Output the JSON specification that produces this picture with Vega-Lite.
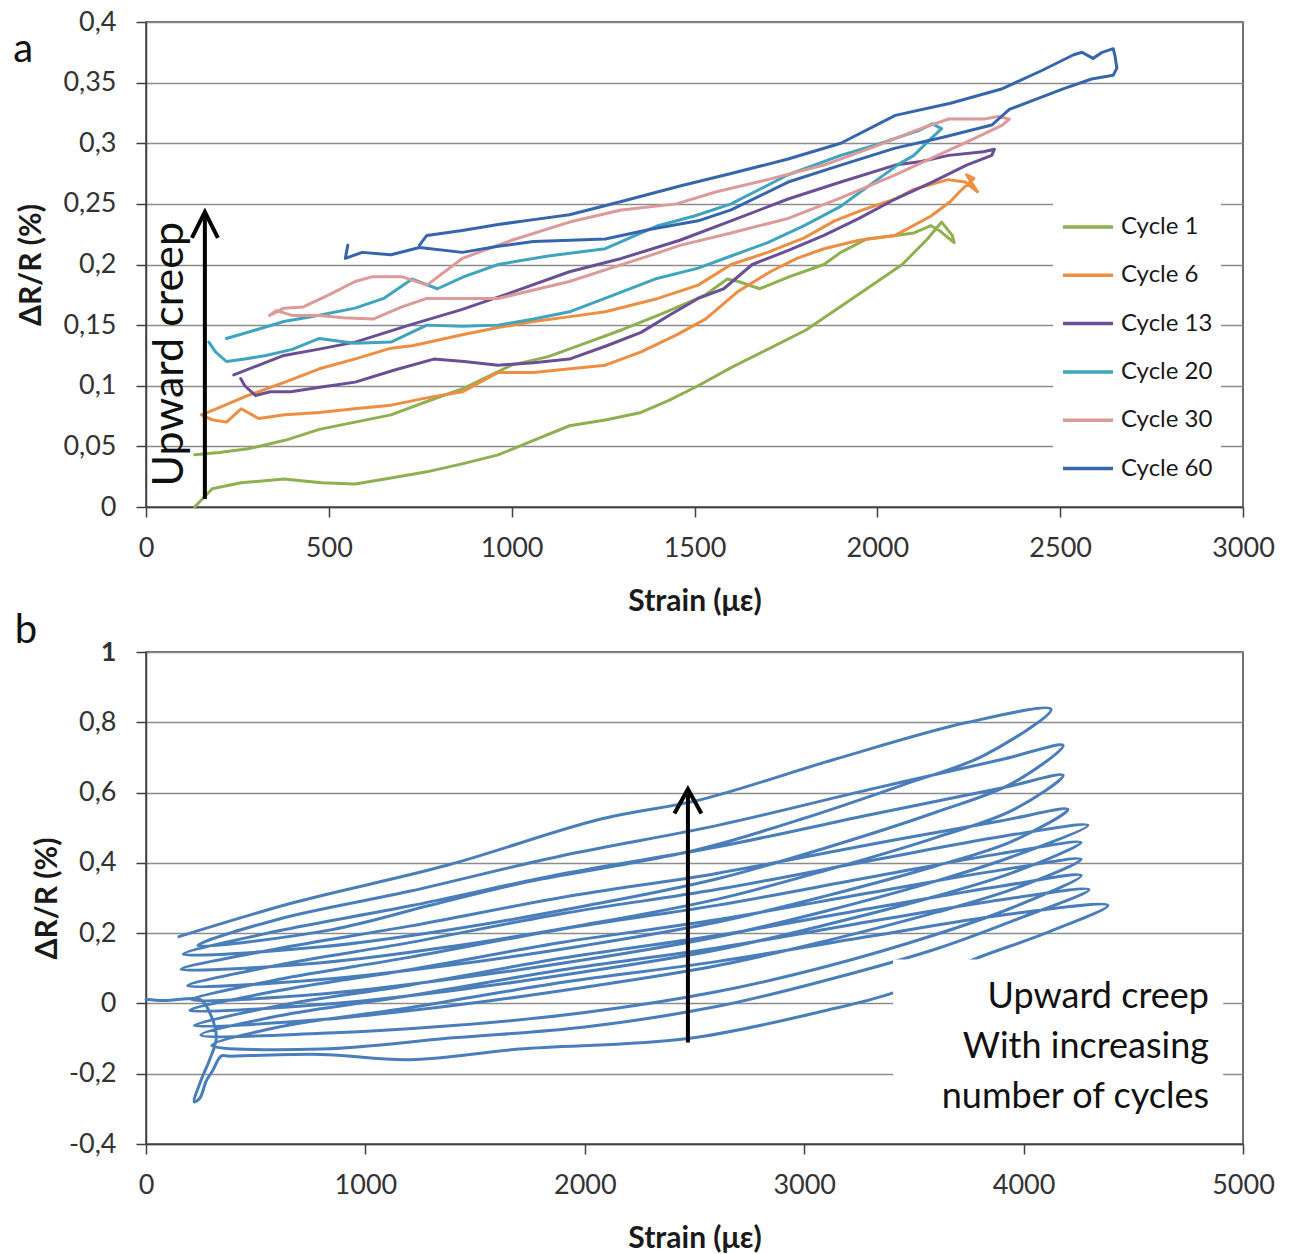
{
"$schema":"https://vega.github.io/schema/vega-lite/v6.json",
"padding":{"left":12,"top":7,"right":5,"bottom":5},
"background":"white",
"bounds":"flush",
"spacing":145,
"config":{
 "font":"Lato",
 "view":{"stroke":"#404040","strokeWidth":1.5},
 "axis":{"labelFont":"Lato","labelFontSize":27,"labelColor":"#333333","labelFlush":false,"titleFont":"Lato","titleFontSize":30,"titleFontWeight":"bold","titleColor":"#1a1a1a","domainColor":"#404040","domainWidth":1.5,"tickColor":"#404040","tickWidth":1.5,"tickSize":10,"gridColor":"#8c8c8c","gridWidth":1.5},
 "line":{"strokeJoin":"round","strokeCap":"round"}
},
"resolve":{"scale":{"color":"independent"},"legend":{"color":"independent"}},
"datasets":{
"a":[
{"c":"Cycle 1","x":133,"y":0.0,"o":1},{"c":"Cycle 1","x":181,"y":0.015,"o":2},{"c":"Cycle 1","x":260,"y":0.02,"o":3},{"c":"Cycle 1","x":377,"y":0.023,"o":4},{"c":"Cycle 1","x":480,"y":0.02,"o":5},{"c":"Cycle 1","x":572,"y":0.019,"o":6},{"c":"Cycle 1","x":670,"y":0.024,"o":7},{"c":"Cycle 1","x":768,"y":0.029,"o":8},{"c":"Cycle 1","x":870,"y":0.036,"o":9},{"c":"Cycle 1","x":963,"y":0.043,"o":10},{"c":"Cycle 1","x":1060,"y":0.055,"o":11},{"c":"Cycle 1","x":1158,"y":0.067,"o":12},{"c":"Cycle 1","x":1260,"y":0.072,"o":13},{"c":"Cycle 1","x":1354,"y":0.078,"o":14},{"c":"Cycle 1","x":1430,"y":0.088,"o":15},{"c":"Cycle 1","x":1510,"y":0.1,"o":16},{"c":"Cycle 1","x":1600,"y":0.115,"o":17},{"c":"Cycle 1","x":1700,"y":0.13,"o":18},{"c":"Cycle 1","x":1805,"y":0.146,"o":19},{"c":"Cycle 1","x":1932,"y":0.172,"o":20},{"c":"Cycle 1","x":2068,"y":0.2,"o":21},{"c":"Cycle 1","x":2137,"y":0.221,"o":22},{"c":"Cycle 1","x":2176,"y":0.235,"o":23},{"c":"Cycle 1","x":2205,"y":0.224,"o":24},{"c":"Cycle 1","x":2210,"y":0.218,"o":25},{"c":"Cycle 1","x":2170,"y":0.228,"o":26},{"c":"Cycle 1","x":2147,"y":0.232,"o":27},{"c":"Cycle 1","x":2100,"y":0.226,"o":28},{"c":"Cycle 1","x":2049,"y":0.224,"o":29},{"c":"Cycle 1","x":1971,"y":0.221,"o":30},{"c":"Cycle 1","x":1900,"y":0.21,"o":31},{"c":"Cycle 1","x":1854,"y":0.2,"o":32},{"c":"Cycle 1","x":1760,"y":0.19,"o":33},{"c":"Cycle 1","x":1678,"y":0.18,"o":34},{"c":"Cycle 1","x":1620,"y":0.186,"o":35},{"c":"Cycle 1","x":1590,"y":0.188,"o":36},{"c":"Cycle 1","x":1530,"y":0.175,"o":37},{"c":"Cycle 1","x":1463,"y":0.166,"o":38},{"c":"Cycle 1","x":1400,"y":0.158,"o":39},{"c":"Cycle 1","x":1300,"y":0.146,"o":40},{"c":"Cycle 1","x":1200,"y":0.135,"o":41},{"c":"Cycle 1","x":1100,"y":0.124,"o":42},{"c":"Cycle 1","x":1000,"y":0.117,"o":43},{"c":"Cycle 1","x":870,"y":0.098,"o":44},{"c":"Cycle 1","x":768,"y":0.087,"o":45},{"c":"Cycle 1","x":670,"y":0.076,"o":46},{"c":"Cycle 1","x":572,"y":0.07,"o":47},{"c":"Cycle 1","x":474,"y":0.064,"o":48},{"c":"Cycle 1","x":380,"y":0.055,"o":49},{"c":"Cycle 1","x":279,"y":0.048,"o":50},{"c":"Cycle 1","x":200,"y":0.045,"o":51},{"c":"Cycle 1","x":133,"y":0.043,"o":52},
{"c":"Cycle 6","x":152,"y":0.076,"o":1},{"c":"Cycle 6","x":180,"y":0.072,"o":2},{"c":"Cycle 6","x":220,"y":0.07,"o":3},{"c":"Cycle 6","x":260,"y":0.081,"o":4},{"c":"Cycle 6","x":308,"y":0.073,"o":5},{"c":"Cycle 6","x":380,"y":0.076,"o":6},{"c":"Cycle 6","x":474,"y":0.078,"o":7},{"c":"Cycle 6","x":570,"y":0.081,"o":8},{"c":"Cycle 6","x":670,"y":0.084,"o":9},{"c":"Cycle 6","x":768,"y":0.09,"o":10},{"c":"Cycle 6","x":865,"y":0.095,"o":11},{"c":"Cycle 6","x":963,"y":0.111,"o":12},{"c":"Cycle 6","x":1060,"y":0.111,"o":13},{"c":"Cycle 6","x":1160,"y":0.114,"o":14},{"c":"Cycle 6","x":1256,"y":0.117,"o":15},{"c":"Cycle 6","x":1354,"y":0.128,"o":16},{"c":"Cycle 6","x":1451,"y":0.142,"o":17},{"c":"Cycle 6","x":1530,"y":0.155,"o":18},{"c":"Cycle 6","x":1620,"y":0.178,"o":19},{"c":"Cycle 6","x":1707,"y":0.194,"o":20},{"c":"Cycle 6","x":1780,"y":0.205,"o":21},{"c":"Cycle 6","x":1854,"y":0.213,"o":22},{"c":"Cycle 6","x":1950,"y":0.22,"o":23},{"c":"Cycle 6","x":2049,"y":0.224,"o":24},{"c":"Cycle 6","x":2147,"y":0.24,"o":25},{"c":"Cycle 6","x":2200,"y":0.252,"o":26},{"c":"Cycle 6","x":2225,"y":0.26,"o":27},{"c":"Cycle 6","x":2264,"y":0.271,"o":28},{"c":"Cycle 6","x":2244,"y":0.274,"o":29},{"c":"Cycle 6","x":2274,"y":0.26,"o":30},{"c":"Cycle 6","x":2240,"y":0.268,"o":31},{"c":"Cycle 6","x":2193,"y":0.27,"o":32},{"c":"Cycle 6","x":2100,"y":0.262,"o":33},{"c":"Cycle 6","x":2049,"y":0.254,"o":34},{"c":"Cycle 6","x":1960,"y":0.245,"o":35},{"c":"Cycle 6","x":1883,"y":0.236,"o":36},{"c":"Cycle 6","x":1800,"y":0.222,"o":37},{"c":"Cycle 6","x":1700,"y":0.21,"o":38},{"c":"Cycle 6","x":1600,"y":0.2,"o":39},{"c":"Cycle 6","x":1510,"y":0.183,"o":40},{"c":"Cycle 6","x":1400,"y":0.172,"o":41},{"c":"Cycle 6","x":1256,"y":0.161,"o":42},{"c":"Cycle 6","x":1160,"y":0.157,"o":43},{"c":"Cycle 6","x":1060,"y":0.153,"o":44},{"c":"Cycle 6","x":963,"y":0.148,"o":45},{"c":"Cycle 6","x":865,"y":0.142,"o":46},{"c":"Cycle 6","x":728,"y":0.133,"o":47},{"c":"Cycle 6","x":670,"y":0.131,"o":48},{"c":"Cycle 6","x":570,"y":0.122,"o":49},{"c":"Cycle 6","x":474,"y":0.114,"o":50},{"c":"Cycle 6","x":380,"y":0.103,"o":51},{"c":"Cycle 6","x":279,"y":0.092,"o":52},{"c":"Cycle 6","x":200,"y":0.082,"o":53},{"c":"Cycle 6","x":152,"y":0.076,"o":54},
{"c":"Cycle 13","x":259,"y":0.106,"o":1},{"c":"Cycle 13","x":270,"y":0.1,"o":2},{"c":"Cycle 13","x":299,"y":0.092,"o":3},{"c":"Cycle 13","x":340,"y":0.095,"o":4},{"c":"Cycle 13","x":396,"y":0.095,"o":5},{"c":"Cycle 13","x":480,"y":0.099,"o":6},{"c":"Cycle 13","x":572,"y":0.103,"o":7},{"c":"Cycle 13","x":680,"y":0.113,"o":8},{"c":"Cycle 13","x":787,"y":0.122,"o":9},{"c":"Cycle 13","x":870,"y":0.12,"o":10},{"c":"Cycle 13","x":963,"y":0.117,"o":11},{"c":"Cycle 13","x":1060,"y":0.119,"o":12},{"c":"Cycle 13","x":1158,"y":0.122,"o":13},{"c":"Cycle 13","x":1260,"y":0.133,"o":14},{"c":"Cycle 13","x":1354,"y":0.144,"o":15},{"c":"Cycle 13","x":1430,"y":0.158,"o":16},{"c":"Cycle 13","x":1510,"y":0.172,"o":17},{"c":"Cycle 13","x":1580,"y":0.18,"o":18},{"c":"Cycle 13","x":1658,"y":0.2,"o":19},{"c":"Cycle 13","x":1760,"y":0.212,"o":20},{"c":"Cycle 13","x":1854,"y":0.224,"o":21},{"c":"Cycle 13","x":1950,"y":0.238,"o":22},{"c":"Cycle 13","x":2049,"y":0.254,"o":23},{"c":"Cycle 13","x":2150,"y":0.268,"o":24},{"c":"Cycle 13","x":2244,"y":0.282,"o":25},{"c":"Cycle 13","x":2313,"y":0.29,"o":26},{"c":"Cycle 13","x":2320,"y":0.295,"o":27},{"c":"Cycle 13","x":2290,"y":0.293,"o":28},{"c":"Cycle 13","x":2195,"y":0.29,"o":29},{"c":"Cycle 13","x":2120,"y":0.285,"o":30},{"c":"Cycle 13","x":2049,"y":0.282,"o":31},{"c":"Cycle 13","x":1900,"y":0.268,"o":32},{"c":"Cycle 13","x":1756,"y":0.254,"o":33},{"c":"Cycle 13","x":1600,"y":0.236,"o":34},{"c":"Cycle 13","x":1460,"y":0.22,"o":35},{"c":"Cycle 13","x":1300,"y":0.205,"o":36},{"c":"Cycle 13","x":1158,"y":0.194,"o":37},{"c":"Cycle 13","x":1000,"y":0.177,"o":38},{"c":"Cycle 13","x":865,"y":0.163,"o":39},{"c":"Cycle 13","x":720,"y":0.15,"o":40},{"c":"Cycle 13","x":572,"y":0.136,"o":41},{"c":"Cycle 13","x":470,"y":0.13,"o":42},{"c":"Cycle 13","x":377,"y":0.125,"o":43},{"c":"Cycle 13","x":300,"y":0.116,"o":44},{"c":"Cycle 13","x":240,"y":0.109,"o":45},
{"c":"Cycle 20","x":172,"y":0.136,"o":1},{"c":"Cycle 20","x":190,"y":0.128,"o":2},{"c":"Cycle 20","x":220,"y":0.12,"o":3},{"c":"Cycle 20","x":270,"y":0.122,"o":4},{"c":"Cycle 20","x":328,"y":0.125,"o":5},{"c":"Cycle 20","x":400,"y":0.13,"o":6},{"c":"Cycle 20","x":474,"y":0.139,"o":7},{"c":"Cycle 20","x":570,"y":0.135,"o":8},{"c":"Cycle 20","x":670,"y":0.136,"o":9},{"c":"Cycle 20","x":768,"y":0.15,"o":10},{"c":"Cycle 20","x":865,"y":0.149,"o":11},{"c":"Cycle 20","x":963,"y":0.15,"o":12},{"c":"Cycle 20","x":1060,"y":0.155,"o":13},{"c":"Cycle 20","x":1158,"y":0.161,"o":14},{"c":"Cycle 20","x":1280,"y":0.175,"o":15},{"c":"Cycle 20","x":1392,"y":0.188,"o":16},{"c":"Cycle 20","x":1510,"y":0.197,"o":17},{"c":"Cycle 20","x":1600,"y":0.207,"o":18},{"c":"Cycle 20","x":1700,"y":0.218,"o":19},{"c":"Cycle 20","x":1800,"y":0.232,"o":20},{"c":"Cycle 20","x":1900,"y":0.248,"o":21},{"c":"Cycle 20","x":2000,"y":0.27,"o":22},{"c":"Cycle 20","x":2060,"y":0.283,"o":23},{"c":"Cycle 20","x":2100,"y":0.29,"o":24},{"c":"Cycle 20","x":2140,"y":0.302,"o":25},{"c":"Cycle 20","x":2176,"y":0.312,"o":26},{"c":"Cycle 20","x":2150,"y":0.316,"o":27},{"c":"Cycle 20","x":2110,"y":0.31,"o":28},{"c":"Cycle 20","x":2098,"y":0.309,"o":29},{"c":"Cycle 20","x":2000,"y":0.299,"o":30},{"c":"Cycle 20","x":1900,"y":0.29,"o":31},{"c":"Cycle 20","x":1756,"y":0.274,"o":32},{"c":"Cycle 20","x":1600,"y":0.25,"o":33},{"c":"Cycle 20","x":1500,"y":0.24,"o":34},{"c":"Cycle 20","x":1400,"y":0.232,"o":35},{"c":"Cycle 20","x":1256,"y":0.213,"o":36},{"c":"Cycle 20","x":1100,"y":0.207,"o":37},{"c":"Cycle 20","x":963,"y":0.2,"o":38},{"c":"Cycle 20","x":870,"y":0.19,"o":39},{"c":"Cycle 20","x":797,"y":0.18,"o":40},{"c":"Cycle 20","x":728,"y":0.188,"o":41},{"c":"Cycle 20","x":650,"y":0.172,"o":42},{"c":"Cycle 20","x":572,"y":0.164,"o":43},{"c":"Cycle 20","x":470,"y":0.158,"o":44},{"c":"Cycle 20","x":377,"y":0.153,"o":45},{"c":"Cycle 20","x":300,"y":0.146,"o":46},{"c":"Cycle 20","x":220,"y":0.139,"o":47},
{"c":"Cycle 30","x":338,"y":0.158,"o":1},{"c":"Cycle 30","x":357,"y":0.162,"o":2},{"c":"Cycle 30","x":400,"y":0.158,"o":3},{"c":"Cycle 30","x":474,"y":0.158,"o":4},{"c":"Cycle 30","x":540,"y":0.156,"o":5},{"c":"Cycle 30","x":621,"y":0.155,"o":6},{"c":"Cycle 30","x":700,"y":0.165,"o":7},{"c":"Cycle 30","x":768,"y":0.172,"o":8},{"c":"Cycle 30","x":870,"y":0.172,"o":9},{"c":"Cycle 30","x":963,"y":0.172,"o":10},{"c":"Cycle 30","x":1060,"y":0.179,"o":11},{"c":"Cycle 30","x":1158,"y":0.186,"o":12},{"c":"Cycle 30","x":1260,"y":0.196,"o":13},{"c":"Cycle 30","x":1354,"y":0.205,"o":14},{"c":"Cycle 30","x":1463,"y":0.216,"o":15},{"c":"Cycle 30","x":1600,"y":0.226,"o":16},{"c":"Cycle 30","x":1756,"y":0.238,"o":17},{"c":"Cycle 30","x":1900,"y":0.255,"o":18},{"c":"Cycle 30","x":2049,"y":0.274,"o":19},{"c":"Cycle 30","x":2150,"y":0.288,"o":20},{"c":"Cycle 30","x":2244,"y":0.301,"o":21},{"c":"Cycle 30","x":2342,"y":0.315,"o":22},{"c":"Cycle 30","x":2361,"y":0.32,"o":23},{"c":"Cycle 30","x":2330,"y":0.322,"o":24},{"c":"Cycle 30","x":2293,"y":0.32,"o":25},{"c":"Cycle 30","x":2195,"y":0.32,"o":26},{"c":"Cycle 30","x":2100,"y":0.31,"o":27},{"c":"Cycle 30","x":2000,"y":0.298,"o":28},{"c":"Cycle 30","x":1854,"y":0.282,"o":29},{"c":"Cycle 30","x":1700,"y":0.27,"o":30},{"c":"Cycle 30","x":1560,"y":0.26,"o":31},{"c":"Cycle 30","x":1451,"y":0.25,"o":32},{"c":"Cycle 30","x":1300,"y":0.245,"o":33},{"c":"Cycle 30","x":1158,"y":0.235,"o":34},{"c":"Cycle 30","x":1000,"y":0.22,"o":35},{"c":"Cycle 30","x":865,"y":0.205,"o":36},{"c":"Cycle 30","x":768,"y":0.183,"o":37},{"c":"Cycle 30","x":700,"y":0.19,"o":38},{"c":"Cycle 30","x":620,"y":0.19,"o":39},{"c":"Cycle 30","x":572,"y":0.186,"o":40},{"c":"Cycle 30","x":500,"y":0.175,"o":41},{"c":"Cycle 30","x":430,"y":0.165,"o":42},{"c":"Cycle 30","x":377,"y":0.164,"o":43},{"c":"Cycle 30","x":338,"y":0.158,"o":44},
{"c":"Cycle 60","x":552,"y":0.216,"o":1},{"c":"Cycle 60","x":545,"y":0.205,"o":2},{"c":"Cycle 60","x":591,"y":0.21,"o":3},{"c":"Cycle 60","x":670,"y":0.208,"o":4},{"c":"Cycle 60","x":748,"y":0.214,"o":5},{"c":"Cycle 60","x":865,"y":0.21,"o":6},{"c":"Cycle 60","x":963,"y":0.215,"o":7},{"c":"Cycle 60","x":1060,"y":0.219,"o":8},{"c":"Cycle 60","x":1160,"y":0.22,"o":9},{"c":"Cycle 60","x":1256,"y":0.221,"o":10},{"c":"Cycle 60","x":1380,"y":0.229,"o":11},{"c":"Cycle 60","x":1510,"y":0.236,"o":12},{"c":"Cycle 60","x":1600,"y":0.245,"o":13},{"c":"Cycle 60","x":1756,"y":0.268,"o":14},{"c":"Cycle 60","x":1900,"y":0.282,"o":15},{"c":"Cycle 60","x":2049,"y":0.296,"o":16},{"c":"Cycle 60","x":2180,"y":0.305,"o":17},{"c":"Cycle 60","x":2313,"y":0.315,"o":18},{"c":"Cycle 60","x":2361,"y":0.328,"o":19},{"c":"Cycle 60","x":2440,"y":0.337,"o":20},{"c":"Cycle 60","x":2510,"y":0.345,"o":21},{"c":"Cycle 60","x":2586,"y":0.353,"o":22},{"c":"Cycle 60","x":2645,"y":0.356,"o":23},{"c":"Cycle 60","x":2655,"y":0.362,"o":24},{"c":"Cycle 60","x":2650,"y":0.372,"o":25},{"c":"Cycle 60","x":2645,"y":0.378,"o":26},{"c":"Cycle 60","x":2615,"y":0.375,"o":27},{"c":"Cycle 60","x":2590,"y":0.37,"o":28},{"c":"Cycle 60","x":2560,"y":0.375,"o":29},{"c":"Cycle 60","x":2537,"y":0.373,"o":30},{"c":"Cycle 60","x":2450,"y":0.36,"o":31},{"c":"Cycle 60","x":2342,"y":0.345,"o":32},{"c":"Cycle 60","x":2200,"y":0.333,"o":33},{"c":"Cycle 60","x":2049,"y":0.323,"o":34},{"c":"Cycle 60","x":1900,"y":0.3,"o":35},{"c":"Cycle 60","x":1756,"y":0.287,"o":36},{"c":"Cycle 60","x":1600,"y":0.275,"o":37},{"c":"Cycle 60","x":1463,"y":0.265,"o":38},{"c":"Cycle 60","x":1300,"y":0.252,"o":39},{"c":"Cycle 60","x":1158,"y":0.241,"o":40},{"c":"Cycle 60","x":1060,"y":0.237,"o":41},{"c":"Cycle 60","x":963,"y":0.233,"o":42},{"c":"Cycle 60","x":865,"y":0.228,"o":43},{"c":"Cycle 60","x":768,"y":0.224,"o":44},{"c":"Cycle 60","x":748,"y":0.216,"o":45}
],
"b":[
{"x":0,"y":0.012,"o":1},{"x":80,"y":0.008,"o":2},{"x":160,"y":0.012,"o":3},{"x":250,"y":0.01,"o":4},{"x":300,"y":-0.04,"o":5},{"x":320,"y":-0.1,"o":6},{"x":290,"y":-0.16,"o":7},{"x":250,"y":-0.22,"o":8},{"x":220,"y":-0.28,"o":9},{"x":245,"y":-0.27,"o":10},{"x":275,"y":-0.22,"o":11},{"x":305,"y":-0.19,"o":12},{"x":342,"y":-0.15,"o":13},
{"x":380,"y":-0.15,"o":14},{"x":800,"y":-0.145,"o":15},{"x":1200,"y":-0.16,"o":16},{"x":1700,"y":-0.13,"o":17},{"x":2470,"y":-0.1,"o":18},{"x":3100,"y":-0.02,"o":19},{"x":3405,"y":0.03,"o":20},{"x":3792,"y":0.13,"o":21},{"x":4100,"y":0.2,"o":22},{"x":4384,"y":0.279,"o":23},
{"x":3900,"y":0.251,"o":24},{"x":3300,"y":0.191,"o":25},{"x":2600,"y":0.119,"o":26},{"x":1900,"y":0.06,"o":27},{"x":1200,"y":-0.012,"o":28},{"x":600,"y":-0.068,"o":29},{"x":300,"y":-0.12,"o":30},
{"x":800,"y":-0.13,"o":31},{"x":1400,"y":-0.098,"o":32},{"x":2000,"y":-0.067,"o":33},{"x":2600,"y":-0.009,"o":34},{"x":3100,"y":0.066,"o":35},{"x":3600,"y":0.155,"o":36},{"x":3950,"y":0.235,"o":37},{"x":4298,"y":0.324,"o":38},
{"x":3900,"y":0.295,"o":39},{"x":3300,"y":0.233,"o":40},{"x":2600,"y":0.158,"o":41},{"x":1900,"y":0.096,"o":42},{"x":1200,"y":0.022,"o":43},{"x":600,"y":-0.036,"o":44},{"x":250,"y":-0.09,"o":45},
{"x":800,"y":-0.085,"o":46},{"x":1400,"y":-0.063,"o":47},{"x":2000,"y":-0.026,"o":48},{"x":2600,"y":0.033,"o":49},{"x":3100,"y":0.105,"o":50},{"x":3600,"y":0.196,"o":51},{"x":3950,"y":0.273,"o":52},{"x":4262,"y":0.364,"o":53},
{"x":3900,"y":0.334,"o":54},{"x":3300,"y":0.27,"o":55},{"x":2600,"y":0.193,"o":56},{"x":1900,"y":0.129,"o":57},{"x":1200,"y":0.052,"o":58},{"x":600,"y":-0.007,"o":59},{"x":220,"y":-0.063,"o":60},
{"x":800,"y":-0.046,"o":61},{"x":1400,"y":-0.006,"o":62},{"x":2000,"y":0.046,"o":63},{"x":2600,"y":0.107,"o":64},{"x":3100,"y":0.178,"o":65},{"x":3600,"y":0.259,"o":66},{"x":3950,"y":0.325,"o":67},{"x":4262,"y":0.41,"o":68},
{"x":3900,"y":0.38,"o":69},{"x":3300,"y":0.315,"o":70},{"x":2600,"y":0.238,"o":71},{"x":1900,"y":0.174,"o":72},{"x":1200,"y":0.096,"o":73},{"x":600,"y":0.036,"o":74},{"x":200,"y":-0.02,"o":75},
{"x":800,"y":-0.003,"o":76},{"x":1400,"y":0.037,"o":77},{"x":2000,"y":0.09,"o":78},{"x":2600,"y":0.152,"o":79},{"x":3100,"y":0.224,"o":80},{"x":3600,"y":0.305,"o":81},{"x":3950,"y":0.372,"o":82},{"x":4262,"y":0.458,"o":83},
{"x":3900,"y":0.427,"o":84},{"x":3300,"y":0.359,"o":85},{"x":2600,"y":0.279,"o":86},{"x":1900,"y":0.212,"o":87},{"x":1200,"y":0.131,"o":88},{"x":600,"y":0.068,"o":89},{"x":210,"y":0.01,"o":90},
{"x":800,"y":0.027,"o":91},{"x":1400,"y":0.07,"o":92},{"x":2000,"y":0.124,"o":93},{"x":2600,"y":0.189,"o":94},{"x":3100,"y":0.263,"o":95},{"x":3600,"y":0.348,"o":96},{"x":3950,"y":0.418,"o":97},{"x":4293,"y":0.507,"o":98},
{"x":3900,"y":0.475,"o":99},{"x":3300,"y":0.406,"o":100},{"x":2600,"y":0.324,"o":101},{"x":1900,"y":0.256,"o":102},{"x":1200,"y":0.173,"o":103},{"x":600,"y":0.109,"o":104},{"x":190,"y":0.05,"o":105},
{"x":800,"y":0.068,"o":106},{"x":1400,"y":0.11,"o":107},{"x":2000,"y":0.165,"o":108},{"x":2600,"y":0.231,"o":109},{"x":3100,"y":0.306,"o":110},{"x":3600,"y":0.391,"o":111},{"x":3950,"y":0.462,"o":112},{"x":4202,"y":0.552,"o":113},
{"x":3900,"y":0.52,"o":114},{"x":3300,"y":0.452,"o":115},{"x":2600,"y":0.37,"o":116},{"x":1900,"y":0.302,"o":117},{"x":1200,"y":0.22,"o":118},{"x":600,"y":0.156,"o":119},{"x":160,"y":0.097,"o":120},
{"x":800,"y":0.116,"o":121},{"x":1400,"y":0.163,"o":122},{"x":2000,"y":0.224,"o":123},{"x":2600,"y":0.296,"o":124},{"x":3100,"y":0.379,"o":125},{"x":3600,"y":0.472,"o":126},{"x":3950,"y":0.55,"o":127},{"x":4180,"y":0.649,"o":128},
{"x":3900,"y":0.613,"o":129},{"x":3300,"y":0.537,"o":130},{"x":2600,"y":0.445,"o":131},{"x":1900,"y":0.369,"o":132},{"x":1200,"y":0.277,"o":133},{"x":600,"y":0.206,"o":134},{"x":170,"y":0.14,"o":135},
{"x":800,"y":0.161,"o":136},{"x":1400,"y":0.211,"o":137},{"x":2000,"y":0.277,"o":138},{"x":2600,"y":0.354,"o":139},{"x":3100,"y":0.443,"o":140},{"x":3600,"y":0.544,"o":141},{"x":3950,"y":0.627,"o":142},{"x":4180,"y":0.734,"o":143},
{"x":3900,"y":0.694,"o":144},{"x":3300,"y":0.609,"o":145},{"x":2600,"y":0.506,"o":146},{"x":1900,"y":0.421,"o":147},{"x":1200,"y":0.319,"o":148},{"x":600,"y":0.239,"o":149},{"x":237,"y":0.165,"o":150},
{"x":848,"y":0.21,"o":151},{"x":1300,"y":0.28,"o":152},{"x":1724,"y":0.344,"o":153},{"x":2130,"y":0.39,"o":154},{"x":2530,"y":0.44,"o":155},{"x":2985,"y":0.524,"o":156},{"x":3441,"y":0.62,"o":157},{"x":3820,"y":0.706,"o":158},{"x":4125,"y":0.837,"o":159},
{"x":3746,"y":0.8,"o":160},{"x":3136,"y":0.694,"o":161},{"x":2530,"y":0.58,"o":162},{"x":2069,"y":0.524,"o":163},{"x":1372,"y":0.393,"o":164},{"x":674,"y":0.287,"o":165},{"x":150,"y":0.19,"o":166}
]
},
"vconcat":[
{
 "width":1097,"height":485,
 "layer":[
  {"data":{"name":"a"},
   "mark":{"type":"line","strokeWidth":3},
   "encoding":{
    "x":{"field":"x","type":"quantitative","scale":{"domain":[0,3000],"nice":false},
      "axis":{"title":"Strain (με)","values":[0,500,1000,1500,2000,2500,3000],"format":"d","grid":false,"labelPadding":18,"titlePadding":25}},
    "y":{"field":"y","type":"quantitative","scale":{"domain":[0,0.4],"nice":false,"zero":false},
      "axis":{"title":"ΔR/R (%)","values":[0,0.05,0.1,0.15,0.2,0.25,0.3,0.35,0.4],"grid":true,"labelPadding":20,"titleX":-115,"titleBaseline":"middle","labelExpr":"replace(replace(format(datum.value,'~r'),'.',','),'\u2212','-')"}},
    "color":{"field":"c","type":"nominal","scale":{"domain":["Cycle 1","Cycle 6","Cycle 13","Cycle 20","Cycle 30","Cycle 60"],"range":["#8fb050","#ee8e42","#6a4f96","#3fa4bf","#dc9a98","#3566ad"]},
      "legend":{"title":null,"orient":"none","legendX":907,"legendY":170,"symbolType":"stroke","symbolSize":2500,"symbolStrokeWidth":3.5,"labelFont":"Lato","labelFontSize":24,"labelColor":"#1a1a1a","rowPadding":9.3,"fillColor":"white","padding":8,"labelOffset":6}},
    "order":{"field":"o","type":"quantitative"}
   }},
  {"data":{"values":[{"x":161,"y":0.0066,"y2":0.24}]},
   "mark":{"type":"rule","strokeWidth":4,"color":"black"},
   "encoding":{"x":{"field":"x","type":"quantitative"},"y":{"field":"y","type":"quantitative"},"y2":{"field":"y2"}}},
  {"data":{"values":[{"x":161,"y":0.2327}]},
   "mark":{"type":"point","shape":"M-1,1L0,-1L1,1","filled":false,"stroke":"black","strokeWidth":4,"size":676,"opacity":1,"strokeJoin":"miter"},
   "encoding":{"x":{"field":"x","type":"quantitative"},"y":{"field":"y","type":"quantitative"}}},
  {"data":{"values":[{"x":66,"y":0.126,"t":"Upward creep"}]},
   "mark":{"type":"text","angle":270,"align":"center","baseline":"middle","font":"Lato","fontSize":43,"color":"#111111"},
   "encoding":{"x":{"field":"x","type":"quantitative"},"y":{"field":"y","type":"quantitative"},"text":{"field":"t"}}},
  {"data":{"values":[{"x":-336,"y":0.367,"t":"a"}]},
   "mark":{"type":"text","align":"center","baseline":"alphabetic","font":"Lato","fontSize":40,"color":"#111111"},
   "encoding":{"x":{"field":"x","type":"quantitative"},"y":{"field":"y","type":"quantitative"},"text":{"field":"t"}}}
 ]
},
{
 "width":1097,"height":492,
 "layer":[
  {"data":{"name":"b"},
   "mark":{"type":"line","strokeWidth":3,"color":"#4a7ebb","interpolate":"catmull-rom"},
   "encoding":{
    "x":{"field":"x","type":"quantitative","scale":{"domain":[0,5000],"nice":false},
      "axis":{"title":"Strain (με)","values":[0,1000,2000,3000,4000,5000],"format":"d","grid":false,"labelPadding":18,"titlePadding":25}},
    "y":{"field":"y","type":"quantitative","scale":{"domain":[-0.4,1],"nice":false,"zero":false},
      "axis":{"title":"ΔR/R (%)","values":[-0.4,-0.2,0,0.2,0.4,0.6,0.8,1],"grid":true,"labelPadding":20,"titleX":-99,"titleBaseline":"middle","labelExpr":"replace(replace(format(datum.value,'~r'),'.',','),'\u2212','-')","labelFontWeight":{"condition":{"test":"datum.value === 1","value":"bold"},"value":"normal"}}},
    "order":{"field":"o","type":"quantitative"}
   }},
  {"data":{"values":[{"x":3405,"x2":4910,"y":-0.335,"y2":0.125}]},
   "mark":{"type":"rect","fill":"white","stroke":null},
   "encoding":{"x":{"field":"x","type":"quantitative"},"x2":{"field":"x2"},"y":{"field":"y","type":"quantitative"},"y2":{"field":"y2"}}},
  {"data":{"values":[{"x":2470,"y":-0.111,"y2":0.6}]},
   "mark":{"type":"rule","strokeWidth":4,"color":"black"},
   "encoding":{"x":{"field":"x","type":"quantitative"},"y":{"field":"y","type":"quantitative"},"y2":{"field":"y2"}}},
  {"data":{"values":[{"x":2470,"y":0.575}]},
   "mark":{"type":"point","shape":"M-1,0.9L0,-0.9L1,0.9","filled":false,"stroke":"black","strokeWidth":4,"size":729,"opacity":1,"strokeJoin":"miter"},
   "encoding":{"x":{"field":"x","type":"quantitative"},"y":{"field":"y","type":"quantitative"}}},
  {"data":{"values":[{"x":4845,"y":0.017,"t":"Upward creep"},{"x":4845,"y":-0.125,"t":"With increasing"},{"x":4845,"y":-0.267,"t":"number of cycles"}]},
   "mark":{"type":"text","align":"right","baseline":"middle","font":"Lato","fontSize":36,"color":"#111111"},
   "encoding":{"x":{"field":"x","type":"quantitative"},"y":{"field":"y","type":"quantitative"},"text":{"field":"t"}}},
  {"data":{"values":[{"x":-547,"y":1.027,"t":"b"}]},
   "mark":{"type":"text","align":"center","baseline":"alphabetic","font":"Lato","fontSize":40,"color":"#111111"},
   "encoding":{"x":{"field":"x","type":"quantitative"},"y":{"field":"y","type":"quantitative"},"text":{"field":"t"}}}
 ]
}
]
}
